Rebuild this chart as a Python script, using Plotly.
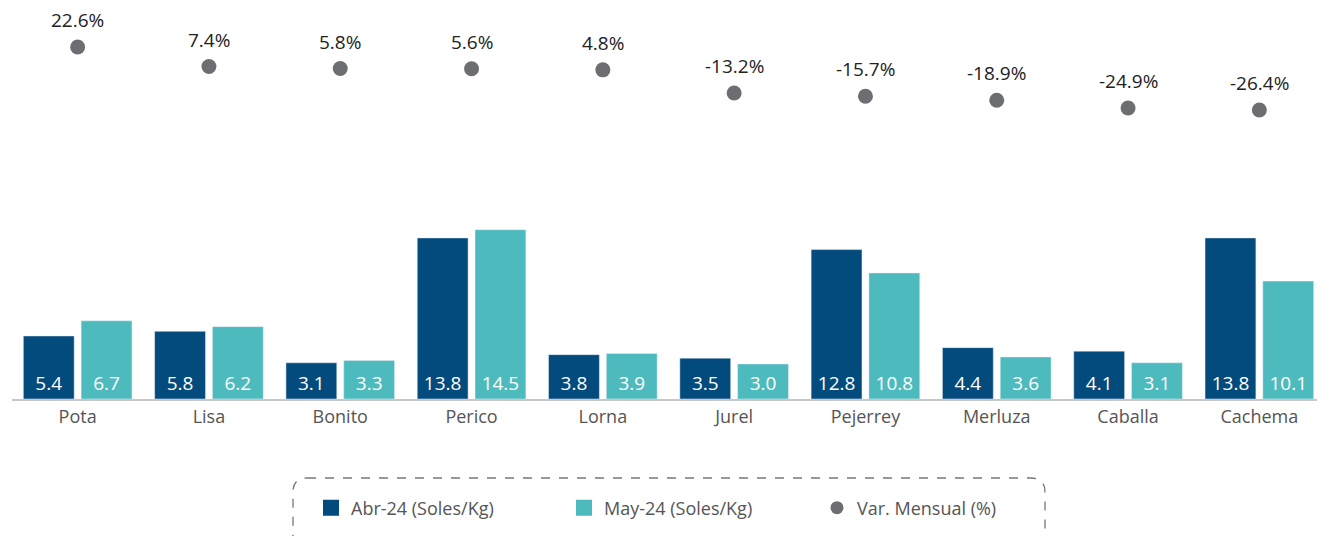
import plotly.graph_objects as go

# ---------------- data ----------------
especies = ["Pota", "Lisa", "Bonito", "Perico", "Lorna",
            "Jurel", "Pejerrey", "Merluza", "Caballa", "Cachema"]

abr_24 = [5.4, 5.8, 3.1, 13.8, 3.8, 3.5, 12.8, 4.4, 4.1, 13.8]
may_24 = [6.7, 6.2, 3.3, 14.5, 3.9, 3.0, 10.8, 3.6, 3.1, 10.1]
var_mensual = [22.6, 7.4, 5.8, 5.6, 4.8, -13.2, -15.7, -18.9, -24.9, -26.4]

C_ABR = "#034a7d"
C_MAY = "#4dbbbd"
C_VAR = "#6d6e71"
FONT = "Open Sans"

# page has an 8px body margin, so the figure is drawn slightly smaller
W, H = 1317, 528
ML, MR, MT, MB = 4, 0, 0, 137

fig = go.Figure()

fig.add_trace(go.Bar(
    x=especies, y=abr_24, name="Abr-24 (Soles/Kg)",
    marker_color=C_ABR, showlegend=False,
    text=[f"{v:.1f}" for v in abr_24],
    textposition="inside", insidetextanchor="start",
    textangle=0, constraintext="none",
    textfont=dict(color="white", size=19, family=FONT),
))

fig.add_trace(go.Bar(
    x=especies, y=may_24, name="May-24 (Soles/Kg)",
    marker_color=C_MAY, showlegend=False,
    text=[f"{v:.1f}" for v in may_24],
    textposition="inside", insidetextanchor="start",
    textangle=0, constraintext="none",
    textfont=dict(color="white", size=19, family=FONT),
))

fig.add_trace(go.Scatter(
    x=especies, y=var_mensual, name="Var. Mensual (%)",
    yaxis="y2", mode="markers", showlegend=False,
    marker=dict(color=C_VAR, size=15),
))

# labels above the dots
for e, v in zip(especies, var_mensual):
    fig.add_annotation(
        x=e, y=v, yref="y2", text=f"{v:.1f}%", showarrow=False,
        yshift=27, font=dict(size=19, color="#222222", family=FONT),
    )

# legend entries (bigger squares than default bar icons)
for name, col, sym in [("Abr-24 (Soles/Kg)", C_ABR, "square"),
                       ("May-24 (Soles/Kg)", C_MAY, "square"),
                       ("Var. Mensual (%)", C_VAR, "circle")]:
    fig.add_trace(go.Scatter(
        x=[None], y=[None], mode="markers", name=name,
        marker=dict(color=col, symbol=sym, size=16 if sym == "square" else 13),
    ))

# dashed rounded box around legend
pw, ph = W - ML - MR, H - MT - MB
x0, x1 = (285 - ML) / pw, (1037 - ML) / pw
y0, y1 = (H - MB - 470) / ph, (H - MB - 540) / ph
rx, ry = 14 / pw, 14 / ph
path = (f"M {x0 + rx},{y0} L {x1 - rx},{y0} Q {x1},{y0} {x1},{y0 - ry} "
        f"L {x1},{y1 + ry} Q {x1},{y1} {x1 - rx},{y1} "
        f"L {x0 + rx},{y1} Q {x0},{y1} {x0},{y1 + ry} "
        f"L {x0},{y0 - ry} Q {x0},{y0} {x0 + rx},{y0} Z")
fig.add_shape(type="path", path=path, xref="paper", yref="paper",
              line=dict(color="#777777", width=1.3, dash="dash"))

fig.update_layout(
    width=W, height=H,
    margin=dict(l=ML, r=MR, t=MT, b=MB, autoexpand=False),
    paper_bgcolor="white", plot_bgcolor="white",
    barmode="group", bargap=0.12, bargroupgap=0.12,
    font=dict(family=FONT, color="#555555"),
    xaxis=dict(
        range=[-0.5, len(especies) - 0.5],
        showline=True, linecolor="#c8c8c8", linewidth=2,
        ticks="", tickfont=dict(size=18, color="#555555"),
        showgrid=False, automargin=False,
    ),
    yaxis=dict(range=[0, 33.5], visible=False, showgrid=False),
    yaxis2=dict(range=[-251.2, 52.9], overlaying="y", visible=False,
                showgrid=False),
    legend=dict(
        orientation="h", xref="container", yref="container",
        x=303 / W, xanchor="left", y=1 - 500 / H, yanchor="middle",
        entrywidth=208, entrywidthmode="pixels",
        font=dict(size=18, color="#555555", family=FONT),
        bgcolor="rgba(0,0,0,0)",
    ),
)

fig.write_html("out.html")
